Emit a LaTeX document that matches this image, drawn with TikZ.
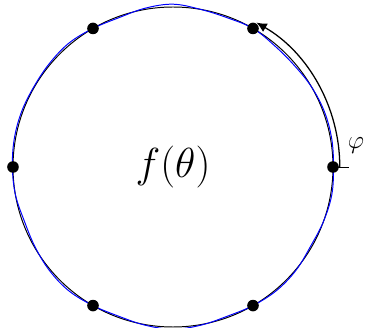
\documentclass[tikz,border=0pt]{standalone}
\usepackage{tikz}
\usetikzlibrary{arrows.meta}
\tikzset{
  circln/.style={line width=0.7pt, black},
  waveln/.style={line width=0.7pt, blue},
  sampdot/.style={circle, fill=black, inner sep=0pt, minimum size=2.9mm},
  anglearr/.style={-{Latex[length=2.6mm,width=2.4mm]}, line width=0.9pt},
}
\begin{document}
\begin{tikzpicture}
    \useasboundingbox (-4.325,-4.025) rectangle (4.825,4.175);
    \draw[circln] (0,0) circle (4);
    \draw[waveln] plot[smooth cycle, tension=0.6] coordinates {
      (0:4.0125) (10:4.03) (20:4.03) (30:4.0) (40:3.955) (50:3.955)
      (60:4.0) (70:3.97) (80:4.0) (90:4.07) (100:4.03) (110:3.97)
      (120:4.0) (130:4.045) (140:4.03) (150:4.015) (160:4.03) (170:4.03)
      (180:4.015) (190:4.0) (200:3.955) (210:3.985) (220:4.03) (230:4.045)
      (240:4.0) (250:3.97) (260:4.015) (270:4.055) (280:4.015) (290:3.97)
      (300:4.0) (310:4.03) (320:4.015) (330:3.97) (340:4.0) (350:4.03)};
    \node[font=\Huge, scale=1.2] (fth) at (0,0) {$f(\theta)$};
    \node[sampdot] (s0) at (0:4) {};
    \node[sampdot] (s1) at (60:4) {};
    \node[sampdot] (s2) at (120:4) {};
    \node[sampdot] (s3) at (180:4) {};
    \node[sampdot] (s4) at (240:4) {};
    \node[sampdot] (s5) at (300:4) {};
    \coordinate (tick) at (0:4.4);
    \draw[circln] (s0.center) -- (tick);
    \draw[anglearr] (0:4.17) arc[start angle=0, end angle=60, radius=4.17];
    \node[font=\large, scale=1.5] (phi) at (4.575,0.525) {$\varphi$};
  \end{tikzpicture}
\end{document}
